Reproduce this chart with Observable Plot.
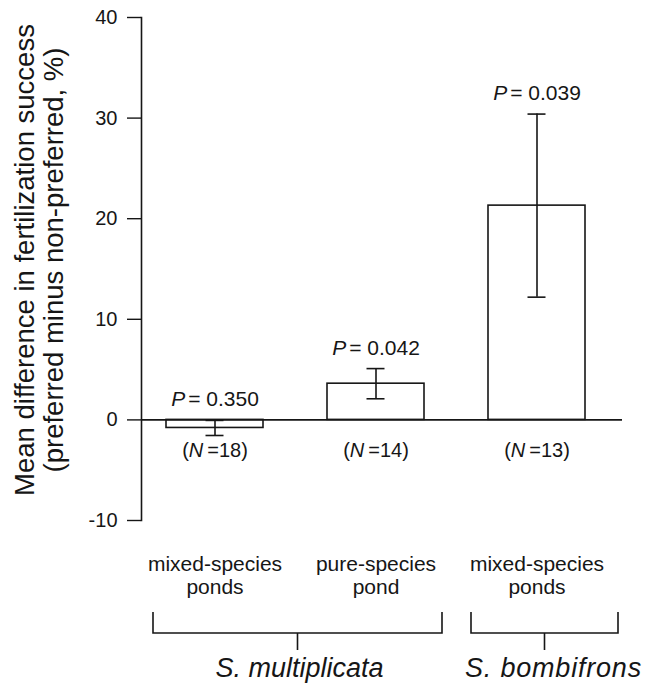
<!DOCTYPE html>
<html>
<head>
<meta charset="utf-8">
<script src="https://cdn.jsdelivr.net/npm/d3@7"></script>
<script src="https://cdn.jsdelivr.net/npm/@observablehq/plot@0.6"></script>
<style>
  html, body { margin: 0; padding: 0; background: #fff; }
  #chart { width: 660px; height: 688px; }
</style>
</head>
<body>
<div id="chart"></div>
<script>
// ---- data ----
const categories = ["msm", "psm", "msb"];
const categoryLabels = ["mixed-species\nponds", "pure-species\npond", "mixed-species\nponds"];
const means = [-0.8, 3.6, 21.3];
const errors = [0.75, 1.5, 9.1];
const pValues = ["0.350", "0.042", "0.039"];
const nValues = [18, 14, 13];
const groupNames = ["S. multiplicata", "S. bombifrons"];
const groupFirst = ["msm", "msb"];
const groupLast = ["psm", "msb"];
const yTicks = [-10, 0, 10, 20, 30, 40];
const yLabel = "Mean difference in fertilization success\n(preferred minus non-preferred, %)";

const rows = categories.map((c, i) => ({
  cat: c, label: categoryLabels[i], mean: means[i],
  lo: means[i] - errors[i], hi: means[i] + errors[i], p: pValues[i], n: nValues[i]
}));

const FONT = "'Liberation Sans', Arial, Helvetica, sans-serif";
const INK = "#161616";

const plot = Plot.plot({
  width: 660, height: 688,
  marginTop: 17, marginBottom: 168, marginLeft: 141, marginRight: 38,
  style: { fontFamily: FONT, background: "white", color: INK, overflow: "visible" },
  x: { domain: categories, paddingInner: 0.4, paddingOuter: 0.19, align: 0.4 },
  y: { domain: [-10, 40] },
  marks: [
    Plot.frame({ anchor: "left", stroke: INK, strokeWidth: 1.6 }),
    Plot.axisY({ ticks: yTicks, tickSize: 14, tickPadding: 10, fontSize: 20, label: null,
                 strokeWidth: 1.4, stroke: INK, tickFormat: d => String(d) }),
    Plot.axisX({ tickSize: 0, tickPadding: 34, fontSize: 21, lineHeight: 1.1, label: null,
                 tickFormat: d => categoryLabels[categories.indexOf(d)] }),
    Plot.barY(rows, { x: "cat", y: "mean", fill: "white", stroke: INK, strokeWidth: 1.6 }),
    Plot.ruleY([0], { stroke: INK, strokeWidth: 1.6 }),
    Plot.ruleX(rows, { x: "cat", y1: "lo", y2: "hi", stroke: INK, strokeWidth: 1.6 }),
    Plot.tickY(rows, { x: "cat", y: "lo", stroke: INK, strokeWidth: 1.6, insetLeft: 39.5, insetRight: 39.5 }),
    Plot.tickY(rows, { x: "cat", y: "hi", stroke: INK, strokeWidth: 1.6, insetLeft: 39.5, insetRight: 39.5 }),
    Plot.text(rows, { x: "cat", y: d => Math.max(d.hi, 0), dy: -14, lineAnchor: "bottom",
                      text: d => "P = " + d.p, fontSize: 21, fill: INK }),
    Plot.text(rows, { x: "cat", y: () => 0, dy: 37, lineAnchor: "bottom",
                      text: d => "(N =" + d.n + ")", fontSize: 20, fill: INK }),
    Plot.text([yLabel], { frameAnchor: "left", textAnchor: "middle", rotate: -90, dx: -102, dy: -9,
                          fontSize: 27.5, lineHeight: 1.055, text: d => d, fill: INK })
  ]
});

document.getElementById("chart").appendChild(plot);

// italic P and N via tspans
const svg = d3.select(plot);
svg.selectAll("text").each(function () {
  const t = d3.select(this);
  if (this.querySelector("tspan")) return;
  const s = this.textContent;
  if (/^P = /.test(s)) {
    const rest = s.replace(/^P\s*/, "");
    t.text(null);
    t.append("tspan").attr("font-style", "italic").text("P");
    t.append("tspan").attr("dx", 3).text(rest.replace("= ", "=\u00a0"));
  } else if (/^\(N =/.test(s)) {
    const rest = s.replace(/^\(N\s*/, "");
    t.text(null);
    t.append("tspan").text("(");
    t.append("tspan").attr("font-style", "italic").text("N");
    t.append("tspan").attr("dx", 4).text(rest);
  }
});

// group brackets below the category labels, positioned through the x scale
const xs = plot.scale("x");
const ys = plot.scale("y");
const bw = xs.bandwidth;
const bottom = ys.apply(-10);
const padLeft = [13, 17], padRight = [18, 33];
const labelShift = [2, 9];
const g = svg.append("g").attr("aria-label", "groups");
groupNames.forEach((name, i) => {
  const x0 = xs.apply(groupFirst[i]) - padLeft[i];
  const x1 = xs.apply(groupLast[i]) + bw + padRight[i];
  const yTop = bottom + 92, yBar = bottom + 113, yTick = bottom + 130;
  const xm = (x0 + x1) / 2;
  g.append("path")
    .attr("d", `M${x0},${yTop}V${yBar}H${x1}V${yTop}M${xm},${yBar}V${yTick}`)
    .attr("fill", "none").attr("stroke", INK).attr("stroke-width", 1.6);
  g.append("text")
    .attr("x", xm + labelShift[i]).attr("y", bottom + 157)
    .attr("text-anchor", "middle").attr("font-style", "italic")
    .attr("font-size", 27).attr("font-family", FONT).attr("fill", INK)
    .attr("letter-spacing", i === 1 ? 0.8 : 0)
    .text(name);
});
</script>
</body>
</html>
